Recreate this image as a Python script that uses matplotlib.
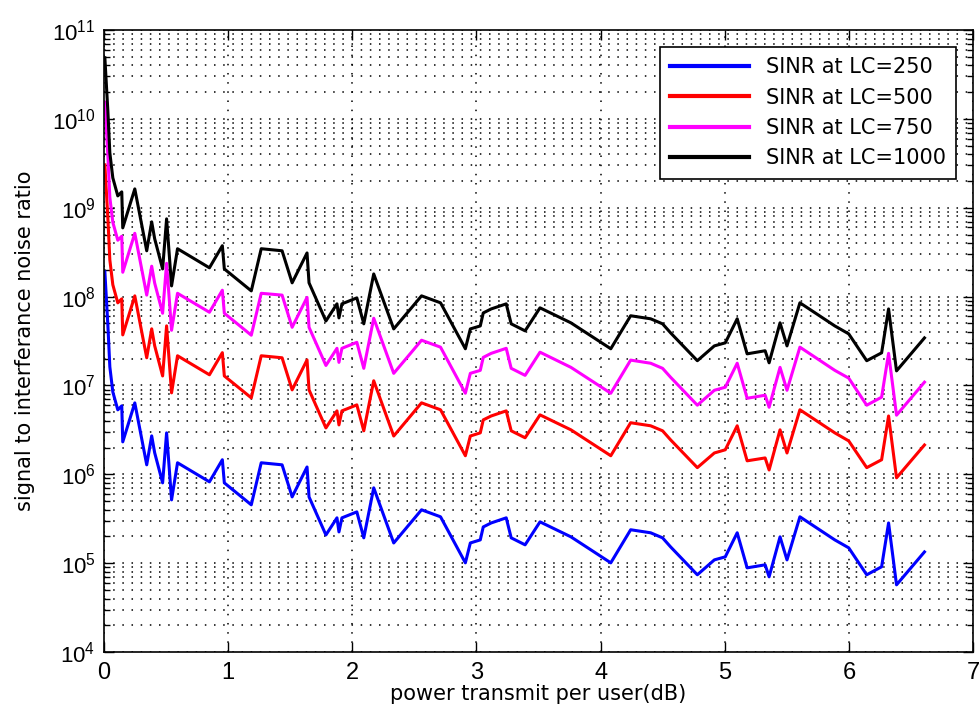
import numpy as np
import matplotlib
matplotlib.use('Agg')
import matplotlib.pyplot as plt

# power transmit per user (dB)
power_db = [0.008, 0.032, 0.048, 0.072, 0.112, 0.144, 0.152, 0.249, 0.345, 0.385,
            0.409, 0.473, 0.505, 0.529, 0.545, 0.593, 0.850, 0.954, 0.970, 1.187,
            1.267, 1.435, 1.516, 1.636, 1.652, 1.788, 1.877, 1.893, 1.917, 2.037,
            2.093, 2.173, 2.334, 2.558, 2.711, 2.911, 2.951, 3.031, 3.055, 3.119,
            3.240, 3.280, 3.392, 3.512, 3.761, 4.082, 4.242, 4.403, 4.499, 4.563,
            4.779, 4.916, 5.004, 5.100, 5.180, 5.325, 5.357, 5.445, 5.501, 5.605,
            5.886, 5.998, 6.143, 6.263, 6.319, 6.383, 6.608]

sinr_250 = [1.90e8, 4.81e7, 1.62e7, 8.47e6, 5.32e6, 5.90e6, 2.32e6, 6.37e6, 1.28e6, 2.71e6,
            1.75e6, 8.02e5, 2.93e6, 1.04e6, 5.16e5, 1.35e6, 8.24e5, 1.46e6, 8.02e5, 4.54e5,
            1.35e6, 1.28e6, 5.58e5, 1.21e6, 5.58e5, 2.08e5, 3.24e5, 2.25e5, 3.24e5, 3.78e5,
            1.93e5, 7.05e5, 1.69e5, 3.99e5, 3.33e5, 1.01e5, 1.69e5, 1.83e5, 2.56e5, 2.84e5,
            3.24e5, 1.93e5, 1.61e5, 2.92e5, 1.98e5, 1.01e5, 2.38e5, 2.20e5, 1.93e5, 1.53e5,
            7.41e4, 1.09e5, 1.18e5, 2.20e5, 8.87e4, 9.59e4, 7.03e4, 1.98e5, 1.09e5, 3.33e5,
            1.83e5, 1.49e5, 7.41e4, 9.12e4, 2.84e5, 5.71e4, 1.34e5]

sinr_500 = [3.04e9, 7.70e8, 2.59e8, 1.36e8, 8.51e7, 9.44e7, 3.71e7, 1.02e8, 2.05e7, 4.34e7,
            2.80e7, 1.28e7, 4.69e7, 1.66e7, 8.26e6, 2.16e7, 1.32e7, 2.34e7, 1.28e7, 7.26e6,
            2.16e7, 2.05e7, 8.93e6, 1.94e7, 8.93e6, 3.33e6, 5.18e6, 3.60e6, 5.18e6, 6.05e6,
            3.09e6, 1.13e7, 2.70e6, 6.38e6, 5.33e6, 1.62e6, 2.70e6, 2.93e6, 4.10e6, 4.54e6,
            5.18e6, 3.09e6, 2.58e6, 4.67e6, 3.17e6, 1.62e6, 3.81e6, 3.52e6, 3.09e6, 2.45e6,
            1.19e6, 1.74e6, 1.89e6, 3.52e6, 1.42e6, 1.53e6, 1.12e6, 3.17e6, 1.74e6, 5.33e6,
            2.93e6, 2.38e6, 1.19e6, 1.46e6, 4.54e6, 9.14e5, 2.14e6]

sinr_750 = [1.54e10, 3.90e9, 1.31e9, 6.86e8, 4.31e8, 4.78e8, 1.88e8, 5.16e8, 1.04e8, 2.20e8,
            1.42e8, 6.50e7, 2.37e8, 8.42e7, 4.18e7, 1.09e8, 6.67e7, 1.18e8, 6.50e7, 3.68e7,
            1.09e8, 1.04e8, 4.52e7, 9.80e7, 4.52e7, 1.68e7, 2.62e7, 1.82e7, 2.62e7, 3.06e7,
            1.56e7, 5.71e7, 1.37e7, 3.23e7, 2.70e7, 8.18e6, 1.37e7, 1.48e7, 2.07e7, 2.30e7,
            2.62e7, 1.56e7, 1.30e7, 2.37e7, 1.60e7, 8.18e6, 1.93e7, 1.78e7, 1.56e7, 1.24e7,
            6.00e6, 8.83e6, 9.56e6, 1.78e7, 7.18e6, 7.77e6, 5.69e6, 1.60e7, 8.83e6, 2.70e7,
            1.48e7, 1.21e7, 6.00e6, 7.39e6, 2.30e7, 4.63e6, 1.09e7]

sinr_1000 = [4.86e10, 1.23e10, 4.15e9, 2.17e9, 1.36e9, 1.51e9, 5.94e8, 1.63e9, 3.28e8, 6.94e8,
             4.48e8, 2.05e8, 7.50e8, 2.66e8, 1.32e8, 3.46e8, 2.11e8, 3.74e8, 2.05e8, 1.16e8,
             3.46e8, 3.28e8, 1.43e8, 3.10e8, 1.43e8, 5.32e7, 8.29e7, 5.76e7, 8.29e7, 9.68e7,
             4.94e7, 1.80e8, 4.33e7, 1.02e8, 8.52e7, 2.59e7, 4.33e7, 4.68e7, 6.55e7, 7.27e7,
             8.29e7, 4.94e7, 4.12e7, 7.48e7, 5.07e7, 2.59e7, 6.09e7, 5.63e7, 4.94e7, 3.92e7,
             1.90e7, 2.79e7, 3.02e7, 5.63e7, 2.27e7, 2.46e7, 1.80e7, 5.07e7, 2.79e7, 8.52e7,
             4.68e7, 3.81e7, 1.90e7, 2.33e7, 7.27e7, 1.46e7, 3.43e7]

labels = ['SINR at LC=250', 'SINR at LC=500', 'SINR at LC=750', 'SINR at LC=1000']
colors = ['#0000ff', '#ff0000', '#ff00ff', '#000000']
y_ticks = [1e4, 1e5, 1e6, 1e7, 1e8, 1e9, 1e10, 1e11]

plt.rcParams['font.family'] = ['Liberation Sans', 'DejaVu Sans']

fig = plt.figure(figsize=(9.8, 7.15), dpi=100)
ax = fig.add_axes([0.106, 0.088, 0.887, 0.870])

for ys, c, lab in zip([sinr_250, sinr_500, sinr_750, sinr_1000], colors, labels):
    ax.semilogy(power_db, ys, color=c, lw=2.2, label=lab)

ax.set_xlim(0, 7)
ax.set_ylim(1e4, 1e11)
ax.set_xticks(range(0, 8))
ax.set_yticks(y_ticks)
ax.yaxis.set_major_formatter(matplotlib.ticker.LogFormatterSciNotation())

# matlab style dotted grid
dots = (0, (1, 5))
ax.grid(True, which='major', axis='both', color='k', linestyle=dots, lw=1.1)
ax.grid(True, which='minor', axis='y', color='k', linestyle=dots, lw=1.1)
ax.set_axisbelow(True)

ax.tick_params(which='both', direction='in', top=True, right=True)
ax.tick_params(which='major', length=7, width=1)
ax.tick_params(which='minor', length=4, width=1)
ax.tick_params(axis='y', labelsize=16, pad=6)
ax.tick_params(axis='x', labelsize=17, pad=7)
ax.xaxis.set_minor_locator(matplotlib.ticker.NullLocator())
ax.yaxis.set_minor_locator(matplotlib.ticker.LogLocator(base=10, subs=np.arange(2, 10), numticks=20))
ax.yaxis.set_minor_formatter(matplotlib.ticker.NullFormatter())
for s in ax.spines.values():
    s.set_linewidth(1.2)

ax.set_xlabel('power transmit per user(dB)', fontsize=15, family='DejaVu Sans', labelpad=0)
ax.set_ylabel('signal to interferance noise ratio', fontsize=15, family='DejaVu Sans', labelpad=12)

leg = ax.legend(loc='upper right', prop={'family': 'DejaVu Sans', 'size': 15}, fancybox=False,
                framealpha=1, edgecolor='k', handlelength=3.8, borderaxespad=0.8,
                labelspacing=0.5, borderpad=0.5)
leg.get_frame().set_linewidth(1.2)
for h in leg.get_lines():
    h.set_linewidth(3)

plt.savefig('out.png', dpi=100)
